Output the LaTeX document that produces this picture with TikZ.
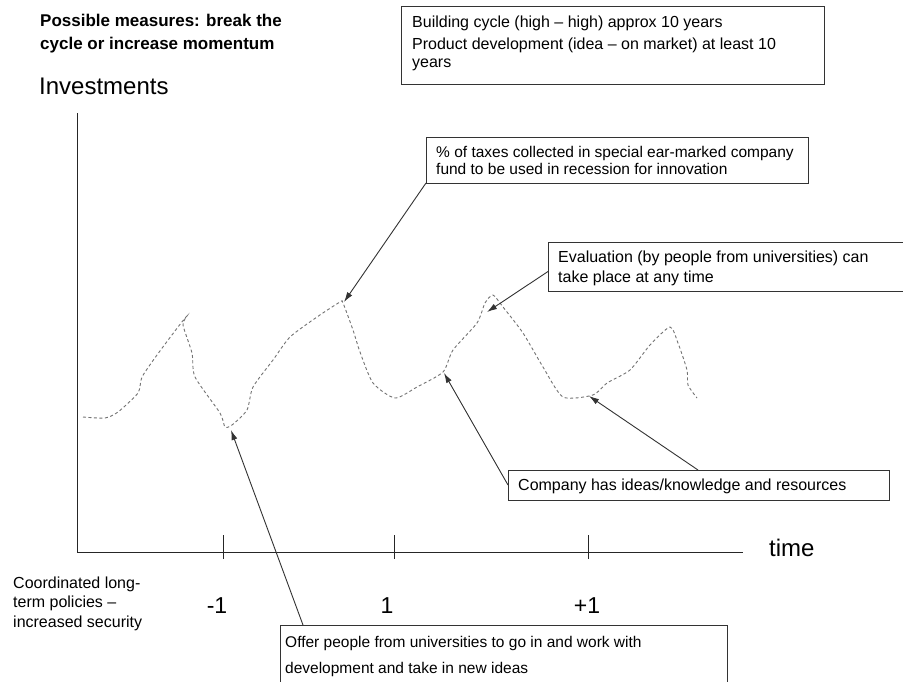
\documentclass[tikz,border=0pt]{standalone}
\usepackage{fontspec}
\setmainfont{Liberation Sans}
\usetikzlibrary{arrows.meta}
\begin{document}
\begin{tikzpicture}[x=1pt,y=-1pt,
  boxframe/.style={draw=black!80, line width=0.9pt, rectangle, anchor=north west, inner sep=0pt, outer sep=0pt},
  boxtext/.style={anchor=north west, inner sep=0pt, align=left, text=black},
  curve/.style={draw=black!55, line width=0.9pt, dash pattern=on 3pt off 2.5pt},
  pointer/.style={draw=black!80, line width=0.9pt, -{Latex[length=10pt,width=6pt]}},
  axis/.style={draw=black!85, line width=1pt},
  ticklabel/.style={anchor=base, inner sep=0pt, font=\fontsize{23}{26}\selectfont}
]
\useasboundingbox (0,0) rectangle (903,681);
\fill[white] (0,0) rectangle (903,681);
\clip (0,0) rectangle (903,681);

% titles
\node[boxtext, font=\bfseries\fontsize{17}{23}\selectfont] (title) at (40,13.6)
  {Possible measures: break the\\cycle or increase momentum};
\node[anchor=base west, inner sep=0pt, font=\fontsize{24}{26}\selectfont] (invest) at (39,94) {Investments};

% top box
\node[boxframe, minimum width=423pt, minimum height=78pt] (cyclebox) at (401,6) {};
\node[boxtext, font=\fontsize{16}{18}\selectfont] (cycletext) at (412,15.3)
  {Building cycle (high -- high) approx 10 years\\[4pt]Product development (idea -- on market) at least 10\\years};

% axes
\coordinate (ytop) at (77,113);
\coordinate (origin) at (77,552);
\coordinate (xend) at (743,552);
\draw[axis] (ytop) -- (origin) -- (xend);
\coordinate (t1a) at (223,535); \coordinate (t1b) at (223,559);
\coordinate (t2a) at (394,535); \coordinate (t2b) at (394,559);
\coordinate (t3a) at (588,535); \coordinate (t3b) at (588,559);
\draw[axis] (t1a) -- (t1b) (t2a) -- (t2b) (t3a) -- (t3b);
\node[anchor=base west, inner sep=0pt, font=\fontsize{24}{26}\selectfont] (time) at (769,556) {time};
\node[ticklabel] (lm1) at (217,613) {-1};
\node[ticklabel] (l1) at (387,613) {1};
\node[ticklabel] (lp1) at (587,613) {+1};
\node[boxtext, font=\fontsize{16}{19.5}\selectfont] (coord) at (13,576.3)
  {Coordinated long-\\term policies --\\increased security};

% curve
\draw[curve] plot[smooth, tension=0.4] coordinates {
 (83,417) (105,418) (118,412) (138,393) (142,377) (157,355) (178,327) (187,316)
 (183,325) (192,353) (195,377) (220,413) (225,427) (232,425) (247,410) (253,387)
 (273,360) (290,337) (317,317) (340,302) (343,303) (353,330) (360,352) (373,383)
 (395,398) (417,387) (443,372) (453,350) (477,323) (485,303) (493,295) (503,307)
 (523,333) (543,367) (563,397) (593,395) (607,383) (630,370) (650,345) (670,327)
 (678,343) (687,370) (688,385) (697,398)};

% boxes
\node[boxframe, minimum width=382pt, minimum height=46pt] (taxbox) at (426,137) {};
\node[boxtext, font=\fontsize{15.5}{17}\selectfont] (taxtext) at (436,145.7)
  {\% of taxes collected in special ear-marked company\\fund to be used in recession for innovation};

\node[boxframe, minimum width=365pt, minimum height=49pt] (evalbox) at (548,242) {};
\node[boxtext, font=\fontsize{16}{20}\selectfont] (evaltext) at (558,250.3)
  {Evaluation (by people from universities) can\\take place at any time};

\node[boxframe, minimum width=381pt, minimum height=30pt] (compbox) at (508,470) {};
\node[boxtext, font=\fontsize{16}{20}\selectfont] (comptext) at (518,478.3)
  {Company has ideas/knowledge and resources};

\node[boxframe, minimum width=447pt, minimum height=90pt] (offerbox) at (280,625) {};
\node[boxtext, font=\fontsize{15.5}{26}\selectfont] (offertext) at (285,635.7)
  {Offer people from universities to go in and work with\\development and take in new ideas};

% pointers
\coordinate (pTax) at (344,302);
\coordinate (pEval) at (487,312);
\coordinate (pComp1) at (444,373);
\coordinate (pComp2) at (589,396);
\coordinate (pOffer) at (231,430);
\draw[pointer] (taxbox.south west) -- (pTax);
\draw[pointer] ([yshift=-5pt]evalbox.west) -- (pEval);
\draw[pointer] (compbox.west) -- (pComp1);
\draw[pointer] ([xshift=190pt]compbox.north west) -- (pComp2);
\draw[pointer] ([xshift=23pt]offerbox.north west) -- (pOffer);
\end{tikzpicture}
\end{document}
